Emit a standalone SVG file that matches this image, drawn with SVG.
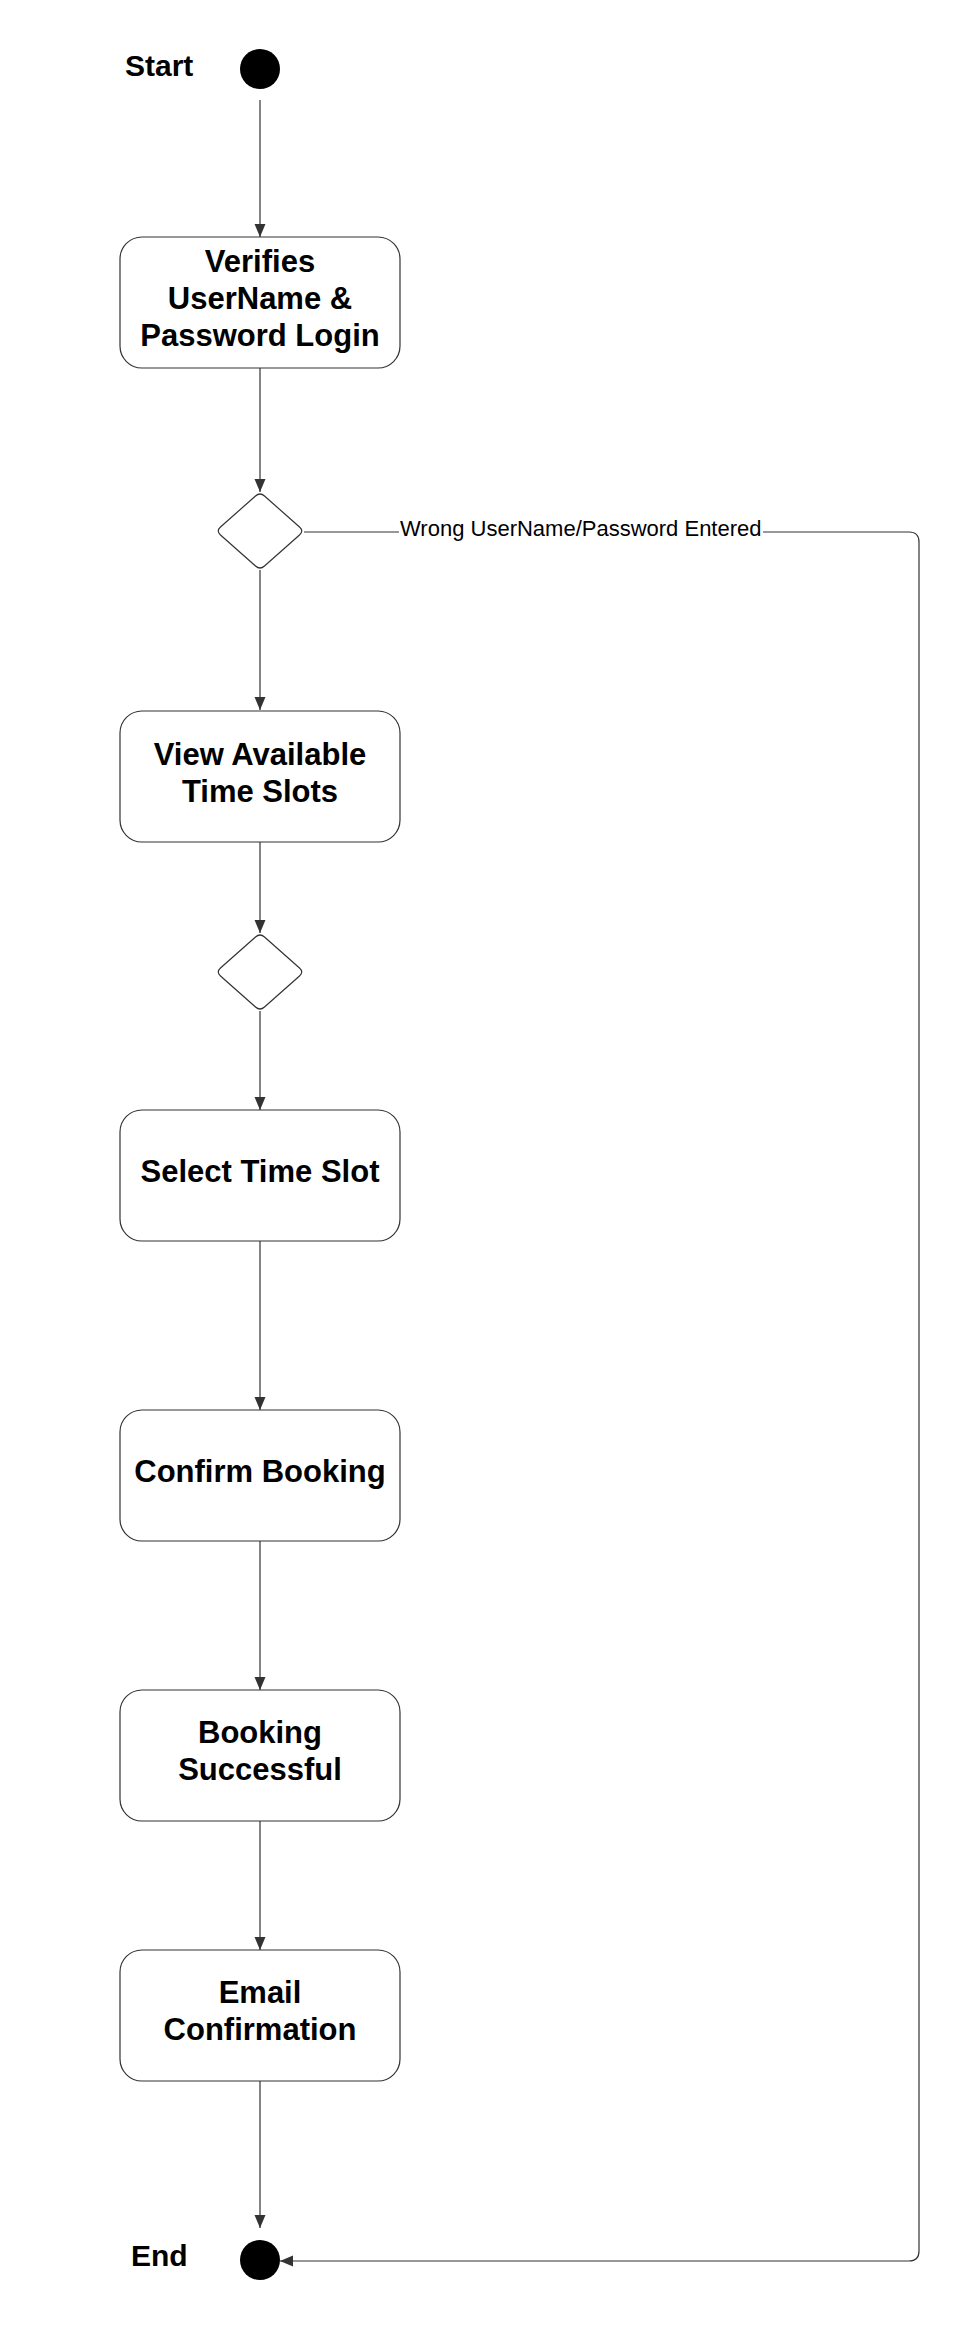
<svg xmlns="http://www.w3.org/2000/svg" width="961" height="2330" viewBox="0 0 961 2330">
<style>
.bg{fill:#ffffff}
.box{fill:#ffffff;stroke:#333333;stroke-width:1.2}
.dia{fill:#ffffff;stroke:#333333;stroke-width:1.2}
.term{fill:#000000}
.t{font-family:"Liberation Sans",Arial,sans-serif;font-weight:bold;font-size:31px;fill:#000000;text-anchor:middle}
.lbl{font-family:"Liberation Sans",Arial,sans-serif;font-weight:bold;font-size:30px;fill:#000000}
.edge{fill:none;stroke:#333333;stroke-width:1.2}
.elbl{font-family:"Liberation Sans",Arial,sans-serif;font-size:22px;fill:#000000}
</style>
<defs>
<marker id="arr" markerUnits="userSpaceOnUse" markerWidth="14" markerHeight="12" refX="13" refY="5.5" orient="auto">
<path d="M0,0 L13,5.5 L0,11 z" fill="#333333"/>
</marker>
</defs>
<rect class="bg" x="0" y="0" width="961" height="2330"/>

<g id="connectors">
<path class="edge" d="M260,100 V237" marker-end="url(#arr)"/>
<path class="edge" d="M260,368 V492" marker-end="url(#arr)"/>
<path class="edge" d="M260,570 V710" marker-end="url(#arr)"/>
<path class="edge" d="M260,842 V933" marker-end="url(#arr)"/>
<path class="edge" d="M260,1011 V1110" marker-end="url(#arr)"/>
<path class="edge" d="M260,1241 V1410" marker-end="url(#arr)"/>
<path class="edge" d="M260,1541 V1690" marker-end="url(#arr)"/>
<path class="edge" d="M260,1821 V1950" marker-end="url(#arr)"/>
<path class="edge" d="M260,2081 V2228" marker-end="url(#arr)"/>
<path class="edge" d="M304,532 H399"/>
<path class="edge" d="M763,532 H909 Q919,532 919,542 V2251 Q919,2261 909,2261 H280" marker-end="url(#arr)"/>
<text class="elbl" x="400" y="536">Wrong UserName/Password Entered</text>
</g>

<g id="start">
<text class="lbl" x="125" y="76">Start</text>
<circle class="term" cx="260" cy="69" r="20"/>
</g>

<g id="verifies">
<rect class="box" x="120" y="237" width="280" height="131" rx="22"/>
<text class="t" x="260" y="272">Verifies</text>
<text class="t" x="260" y="309">UserName &amp;</text>
<text class="t" x="260" y="346">Password Login</text>
</g>

<g id="decision1">
<path class="dia" d="M255.5,496 Q260,492 264.5,496 L299.5,527 Q304,531 299.5,535 L264.5,566 Q260,570 255.5,566 L220.5,535 Q216,531 220.5,527 Z"/>
</g>

<g id="view">
<rect class="box" x="120" y="711" width="280" height="131" rx="22"/>
<text class="t" x="260" y="765">View Available</text>
<text class="t" x="260" y="802">Time Slots</text>
</g>

<g id="decision2">
<path class="dia" d="M255.5,937 Q260,933 264.5,937 L299.5,968 Q304,972 299.5,976 L264.5,1007 Q260,1011 255.5,1007 L220.5,976 Q216,972 220.5,968 Z"/>
</g>

<g id="select">
<rect class="box" x="120" y="1110" width="280" height="131" rx="22"/>
<text class="t" x="260" y="1182">Select Time Slot</text>
</g>

<g id="confirm">
<rect class="box" x="120" y="1410" width="280" height="131" rx="22"/>
<text class="t" x="260" y="1482">Confirm Booking</text>
</g>

<g id="booking">
<rect class="box" x="120" y="1690" width="280" height="131" rx="22"/>
<text class="t" x="260" y="1743">Booking</text>
<text class="t" x="260" y="1780">Successful</text>
</g>

<g id="email">
<rect class="box" x="120" y="1950" width="280" height="131" rx="22"/>
<text class="t" x="260" y="2003">Email</text>
<text class="t" x="260" y="2040">Confirmation</text>
</g>

<g id="end">
<text class="lbl" x="131" y="2266">End</text>
<circle class="term" cx="260" cy="2260" r="20"/>
</g>
</svg>
